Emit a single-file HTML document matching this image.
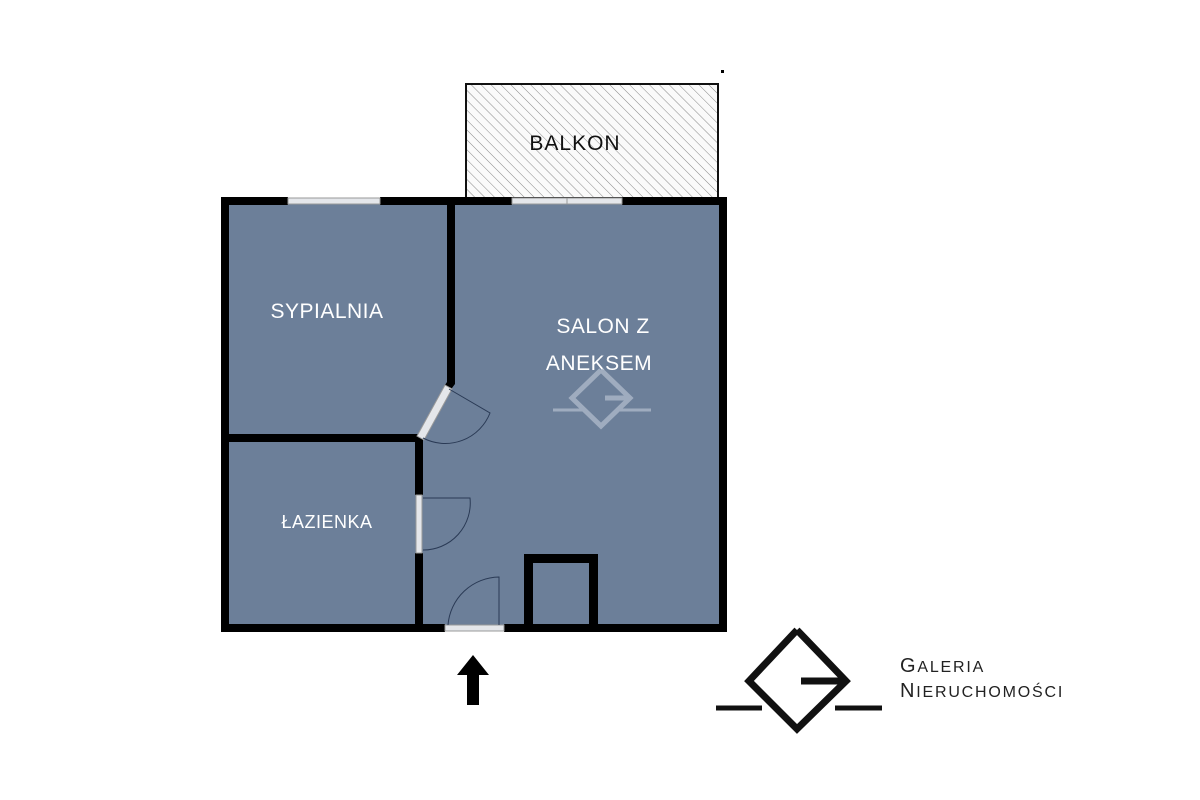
<!DOCTYPE html>
<html><head><meta charset="utf-8"><style>
html,body{margin:0;padding:0;background:#fff;width:1200px;height:800px;overflow:hidden}
text{font-family:"Liberation Sans",sans-serif}
</style></head><body>
<svg width="1200" height="800" viewBox="0 0 1200 800" xmlns="http://www.w3.org/2000/svg">
<defs>
<pattern id="h" width="7" height="7" patternUnits="userSpaceOnUse" patternTransform="rotate(-45)">
<rect width="7" height="7" fill="#fafafa"/><line x1="0" y1="0" x2="0" y2="7" stroke="#888" stroke-width="1"/>
</pattern>
</defs>
<rect x="721" y="70" width="3" height="3" fill="#000"/>
<rect x="466" y="84" width="252" height="114" fill="url(#h)" stroke="#111" stroke-width="2"/>
<text x="575" y="150" font-size="21" text-anchor="middle" fill="#111" letter-spacing="1">BALKON</text>
<rect x="225" y="201" width="498" height="427" fill="#6c7f99"/>
<g fill="#000">
<rect x="221" y="197" width="67" height="8"/>
<rect x="380" y="197" width="132" height="8"/>
<rect x="622" y="197" width="105" height="8"/>
<rect x="221" y="197" width="8" height="435"/>
<rect x="719" y="197" width="8" height="435"/>
<rect x="221" y="624" width="224" height="8"/>
<rect x="504" y="624" width="223" height="8"/>
<rect x="447" y="201" width="8" height="178"/>
<polygon points="447,379 455,379 455,384 449,392 443,388 447,382"/>
<rect x="229" y="434" width="190" height="8"/>
<rect x="415" y="434" width="8" height="61"/>
<rect x="415" y="553" width="8" height="75"/>
<path d="M524 554 H598 V628 H589 V563 H533 V628 H524Z"/>
</g>
<g fill="#e4e6ea" stroke="#999" stroke-width="1">
<rect x="288" y="198" width="92" height="6"/>
<rect x="512" y="198" width="110" height="6"/>
<rect x="416" y="495" width="6" height="58"/>
<rect x="445" y="625" width="59" height="6"/>
<polygon points="445,385 452,389 424,440 417,436"/>
</g>
<line x1="567" y1="198" x2="567" y2="204" stroke="#999"/>
<g fill="none" stroke="#2a3a55" stroke-width="1">
<path d="M449 389 L490 413 A48 48 0 0 1 423 438"/>
<path d="M423 498 H470 A47 47 0 0 1 423 550"/>
<path d="M499 625 V577 A52 52 0 0 0 448 625"/>
</g>
<g fill="#fff" font-size="21" text-anchor="middle" letter-spacing="0.5">
<text x="327" y="318">SYPIALNIA</text>
<text x="603" y="333">SALON Z</text>
<text x="599" y="370">ANEKSEM</text>
<text x="327" y="528" font-size="18">ŁAZIENKA</text>
</g>
<g fill="none" stroke="#a9b5c6" stroke-width="5" opacity="0.85">
<path d="M601 370 L572 398 L601 426 L630 398 L601 370 M605 398 H630"/>
<path d="M553 410 H584 M620 410 H651" stroke-width="3"/>
</g>
<polygon points="473,655 489,675 479,675 479,705 467,705 467,675 457,675" fill="#000"/>
<g fill="none" stroke="#111" stroke-width="7">
<path d="M797 630 L749 681 L797 729 L846 681 L797 630 M801 681 H846"/>
<path d="M716 708 H762 M835 708 H882" stroke-width="5"/>
</g>
<text x="900" y="672" font-size="20" fill="#222" letter-spacing="1.8">G<tspan font-size="16">ALERIA</tspan></text>
<text x="900" y="697" font-size="20" fill="#222" letter-spacing="1.8">N<tspan font-size="16">IERUCHOMOŚCI</tspan></text>
</svg>
</body></html>
